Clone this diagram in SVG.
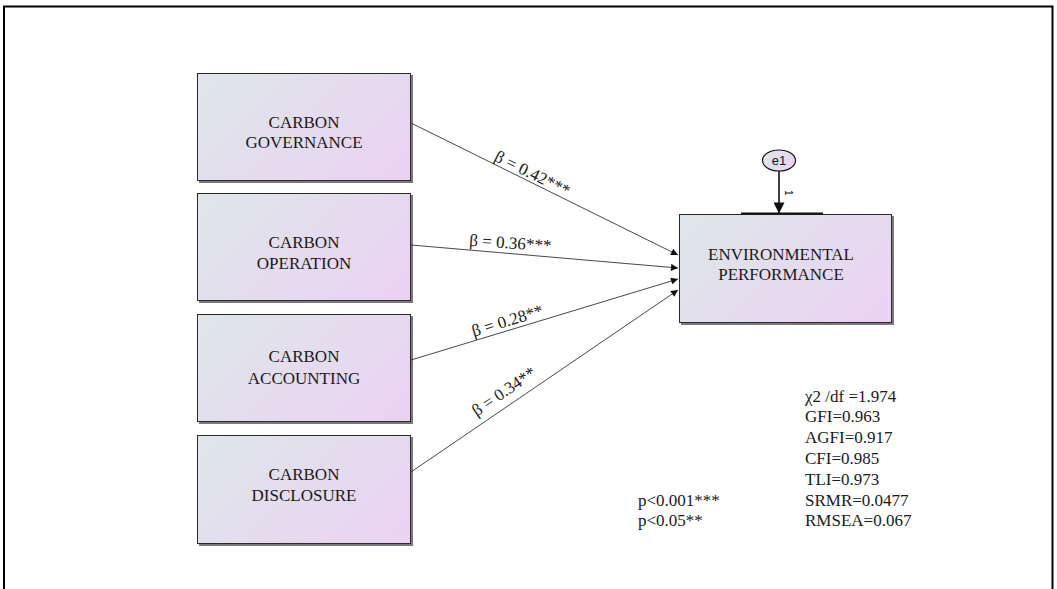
<svg xmlns="http://www.w3.org/2000/svg" width="1057" height="589" viewBox="0 0 1057 589">
  <style>
    .box { fill: url(#boxFill); stroke: #2b2b2b; stroke-width: 1; }
    .shadow { fill: #7a7a7a; }
    .lbl { font-family: "Liberation Serif", "Times New Roman", serif; font-size: 17px; fill: #1a1a1a; text-anchor: middle; }
    .coef { font-family: "Liberation Serif", "Times New Roman", serif; font-size: 17px; fill: #1a1a1a; text-anchor: middle; }
    .stat { font-family: "Liberation Serif", "Times New Roman", serif; font-size: 17px; fill: #1a1a1a; }
    .path { stroke: #333; stroke-width: 0.9; fill: none; marker-end: url(#arr); }
  </style>
  <defs>
    <linearGradient id="boxFill" x1="0" y1="0.25" x2="1" y2="0.75">
      <stop offset="0" stop-color="#dfe5ea"/>
      <stop offset="1" stop-color="#ead3f2"/>
    </linearGradient>
    <marker id="arr" viewBox="0 0 10 10" refX="10" refY="5" markerWidth="9" markerHeight="7" markerUnits="userSpaceOnUse" orient="auto">
      <path d="M0,0 L10,5 L0,10 z" fill="#111"/>
    </marker>
    <marker id="arrBig" viewBox="0 0 10 10" refX="10" refY="5" markerWidth="15" markerHeight="11" markerUnits="userSpaceOnUse" orient="auto">
      <path d="M0,0 L10,5 L0,10 z" fill="#111"/>
    </marker>
  </defs>

  <rect width="1057" height="589" fill="#fff"/>
  <!-- page frame (open at the bottom) -->
  <path d="M4,589 V6.5 H1052.5 V589" fill="none" stroke="#000" stroke-width="2"/>

  <!-- predictors -->
  <g id="governance">
    <rect class="shadow" x="199" y="75" width="214" height="108"/>
    <rect class="box" x="197.5" y="73.5" width="213" height="107"/>
    <text class="lbl" x="304" y="127.5">CARBON</text>
    <text class="lbl" x="304" y="147.5">GOVERNANCE</text>
  </g>
  <g id="operation">
    <rect class="shadow" x="199" y="195" width="214" height="108"/>
    <rect class="box" x="197.5" y="193.5" width="213" height="107"/>
    <text class="lbl" x="304" y="247.5">CARBON</text>
    <text class="lbl" x="304" y="269">OPERATION</text>
  </g>
  <g id="accounting">
    <rect class="shadow" x="199" y="316" width="214" height="108"/>
    <rect class="box" x="197.5" y="314.5" width="213" height="107"/>
    <text class="lbl" x="304" y="361.5">CARBON</text>
    <text class="lbl" x="304" y="383.5">ACCOUNTING</text>
  </g>
  <g id="disclosure">
    <rect class="shadow" x="199" y="437" width="214" height="109"/>
    <rect class="box" x="197.5" y="435.5" width="213" height="108"/>
    <text class="lbl" x="304" y="479.5">CARBON</text>
    <text class="lbl" x="304" y="501">DISCLOSURE</text>
  </g>

  <!-- outcome -->
  <g id="performance">
    <rect class="shadow" x="681" y="216" width="213" height="109"/>
    <rect class="box" x="679.5" y="214.5" width="212" height="108"/>
    <text class="lbl" x="781" y="260">ENVIRONMENTAL</text>
    <text class="lbl" x="781" y="280">PERFORMANCE</text>
  </g>

  <!-- error term -->
  <g id="e1">
    <ellipse cx="779" cy="160.5" rx="16.5" ry="10.5" fill="url(#boxFill)" stroke="#111" stroke-width="1.2"/>
    <text x="779" y="165" font-family="Liberation Sans, Arial, sans-serif" font-size="13" text-anchor="middle" fill="#111">e1</text>
  </g>

  <!-- paths -->
  <g id="connectors">
    <line class="path" x1="411" y1="123" x2="678" y2="255"/>
    <line class="path" x1="411" y1="245" x2="678" y2="268"/>
    <line class="path" x1="411" y1="360" x2="678" y2="279"/>
    <line class="path" x1="411" y1="472" x2="678" y2="290"/>
    <line x1="779" y1="171" x2="779" y2="213.5" stroke="#111" stroke-width="1.6" marker-end="url(#arrBig)"/>
    <line x1="741" y1="213.5" x2="823" y2="213.5" stroke="#111" stroke-width="2.2"/>
    <text transform="translate(785,190) rotate(90)" font-family="Liberation Sans, Arial, sans-serif" font-size="10" fill="#111">1</text>
  </g>

  <!-- path coefficients -->
  <g id="coefficients">
    <text class="coef" transform="translate(530,178.5) rotate(26.3)">β = 0.42***</text>
    <text class="coef" transform="translate(510,248.5) rotate(4)">β = 0.36***</text>
    <text class="coef" transform="translate(509,326) rotate(-17)">β = 0.28**</text>
    <text class="coef" transform="translate(507,396) rotate(-34.3)">β = 0.34**</text>
  </g>

  <!-- significance key -->
  <g id="key">
    <text class="stat" x="638" y="505.5">p&lt;0.001***</text>
    <text class="stat" x="638" y="525.5">p&lt;0.05**</text>
  </g>

  <!-- fit indices -->
  <g id="fit">
    <text class="stat" x="805" y="401.5">χ2 /df =1.974</text>
    <text class="stat" x="805" y="422">GFI=0.963</text>
    <text class="stat" x="805" y="443">AGFI=0.917</text>
    <text class="stat" x="805" y="464">CFI=0.985</text>
    <text class="stat" x="805" y="484.5">TLI=0.973</text>
    <text class="stat" x="805" y="505.5">SRMR=0.0477</text>
    <text class="stat" x="805" y="525.5">RMSEA=0.067</text>
  </g>
</svg>
